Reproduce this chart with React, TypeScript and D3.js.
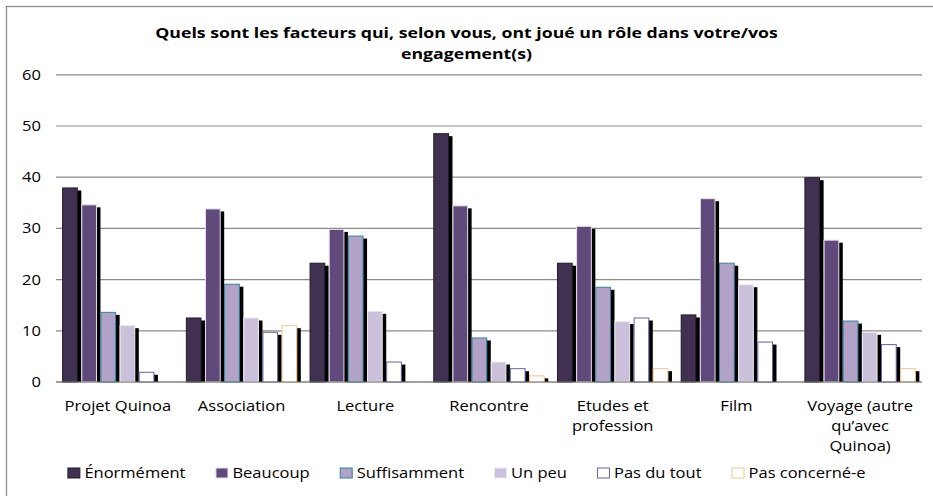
import { useEffect, useRef } from 'react'
import * as d3 from 'd3'

// category labels, split on the lines shown under the axis
const categories = [
  'Projet Quinoa',
  'Association',
  'Lecture',
  'Rencontre',
  'Etudes et profession',
  'Film',
  'Voyage (autre qu’avec Quinoa)',
]
const categoryLines = [
  ['Projet Quinoa'],
  ['Association'],
  ['Lecture'],
  ['Rencontre'],
  ['Etudes et', 'profession'],
  ['Film'],
  ['Voyage (autre', 'qu’avec', 'Quinoa)'],
]

const seriesNames = ['Énormément', 'Beaucoup', 'Suffisamment', 'Un peu', 'Pas du tout', 'Pas concerné-e']

const enormement = [38.0, 12.6, 23.3, 48.6, 23.3, 13.2, 40.0]
const beaucoup = [34.7, 33.9, 29.9, 34.5, 30.5, 35.9, 27.8]
const suffisamment = [13.7, 19.2, 28.6, 8.7, 18.6, 23.3, 12.0]
const unPeu = [11.1, 12.6, 13.9, 4.0, 11.9, 19.1, 9.8]
const pasDuTout = [2.0, 9.8, 4.0, 2.7, 12.6, 7.9, 7.4]
const pasConcerne = [0, 11.1, 0, 1.3, 2.7, 0, 2.7]

const yTicks = [0, 10, 20, 30, 40, 50, 60]

const fills = ['#403151', '#604a7b', '#b3a2c7', '#ccc1da', '#ffffff', '#ffffff']
const strokes = ['#231b2d', '#e4dfea', '#31859c', '#ece8f1', '#6464a4', '#fac090']

const FONT = '"Open Sans", "Noto Sans", sans-serif'
const SX = 1.18 // the reference text is drawn a bit wide

export default function App() {
  const ref = useRef<SVGSVGElement>(null)

  useEffect(() => {
    if (!ref.current) return
    const svg = d3.select(ref.current)
    svg.selectAll('*').remove()

    const width = 933
    const height = 496
    const left = 56
    const right = 922
    const top = 74.8
    const bottom = 382

    const values = [enormement, beaucoup, suffisamment, unPeu, pasDuTout, pasConcerne]

    const addText = (
      g: d3.Selection<any, unknown, null, undefined>,
      x: number,
      y: number,
      str: string,
      anchor: string,
      size = 14,
      weight = 'normal'
    ) =>
      g.append('text')
        .attr('transform', `translate(${x},${y}) scale(${SX},1)`)
        .attr('text-anchor', anchor)
        .style('font-family', FONT)
        .style('font-size', `${size}px`)
        .style('font-weight', weight)
        .style('fill', '#000')
        .text(str)

    // white background + outer border
    svg.append('rect').attr('width', width).attr('height', height).attr('fill', '#fff')
    svg.append('rect')
      .attr('x', 6.5).attr('y', 6.5)
      .attr('width', width + 20).attr('height', height + 20)
      .attr('fill', 'none')
      .attr('stroke', '#8c8c8c')
      .attr('stroke-width', 1.3)

    // title
    addText(svg, width / 2, 37.5, 'Quels sont les facteurs qui, selon vous, ont joué un rôle dans votre/vos', 'middle', 15, 'bold')
    addText(svg, width / 2, 59, 'engagement(s)', 'middle', 15, 'bold')

    const y = d3.scaleLinear().domain([0, 60]).range([bottom, top])
    const x0 = d3.scaleBand<string>().domain(categories).range([left, right]).padding(0)
    const x1 = d3.scaleBand<string>()
      .domain(seriesNames)
      .range([0, x0.bandwidth()])
      .paddingInner(0.18)
      .paddingOuter(0.32)

    // gridlines + y labels
    yTicks.forEach(t => {
      svg.append('line')
        .attr('x1', left).attr('x2', right)
        .attr('y1', y(t)).attr('y2', y(t))
        .attr('stroke', '#8a8a8a')
        .attr('stroke-width', 1.2)
      addText(svg, 41, y(t) + 5, String(t), 'end')
    })

    // bars with their black drop shadow
    const bars = svg.append('g')
    categories.forEach((c, ci) => {
      seriesNames.forEach((s, si) => {
        const v = values[si][ci]
        if (!v) return
        const bx = (x0(c) as number) + (x1(s) as number)
        const bw = x1.bandwidth()
        const by = y(v)
        bars.append('rect')
          .attr('x', bx + 3.5)
          .attr('y', by + 3)
          .attr('width', bw)
          .attr('height', Math.max(0, bottom - by - 3))
          .attr('fill', '#000')
        bars.append('rect')
          .attr('x', bx + 0.5)
          .attr('y', by + 0.5)
          .attr('width', bw - 1)
          .attr('height', bottom - by - 0.5)
          .attr('fill', fills[si])
          .attr('stroke', strokes[si])
          .attr('stroke-width', 1)
      })
    })

    // axis line on top of the bars
    svg.append('line')
      .attr('x1', left).attr('x2', right)
      .attr('y1', bottom).attr('y2', bottom)
      .attr('stroke', '#7f7f7f')
      .attr('stroke-width', 1.2)

    // category labels
    categories.forEach((c, ci) => {
      const cx = (x0(c) as number) + x0.bandwidth() / 2
      categoryLines[ci].forEach((line, li) => {
        addText(svg, cx, 410.5 + li * 20, line, 'middle')
      })
    })

    // legend, centred under the chart
    const legend = svg.append('g')
    const items = seriesNames.map((name, i) => {
      const g = legend.append('g')
      g.append('rect')
        .attr('x', 0.5).attr('y', -5)
        .attr('width', 12).attr('height', 10)
        .attr('fill', fills[i])
        .attr('stroke', strokes[i])
        .attr('stroke-width', 1)
      const t = addText(g, 17, 5, name, 'start')
      const w = 17 + (t.node() as SVGTextElement).getComputedTextLength() * SX
      return { g, w }
    })
    const gap = 30
    const total = d3.sum(items, d => d.w) + gap * (items.length - 1)
    let lx = width / 2 - total / 2
    items.forEach(it => {
      it.g.attr('transform', `translate(${lx},473)`)
      lx += it.w + gap
    })
  }, [])

  return (
    <svg
      ref={ref}
      width={933}
      height={496}
      style={{ position: 'absolute', left: 0, top: 0, display: 'block' }}
    />
  )
}
